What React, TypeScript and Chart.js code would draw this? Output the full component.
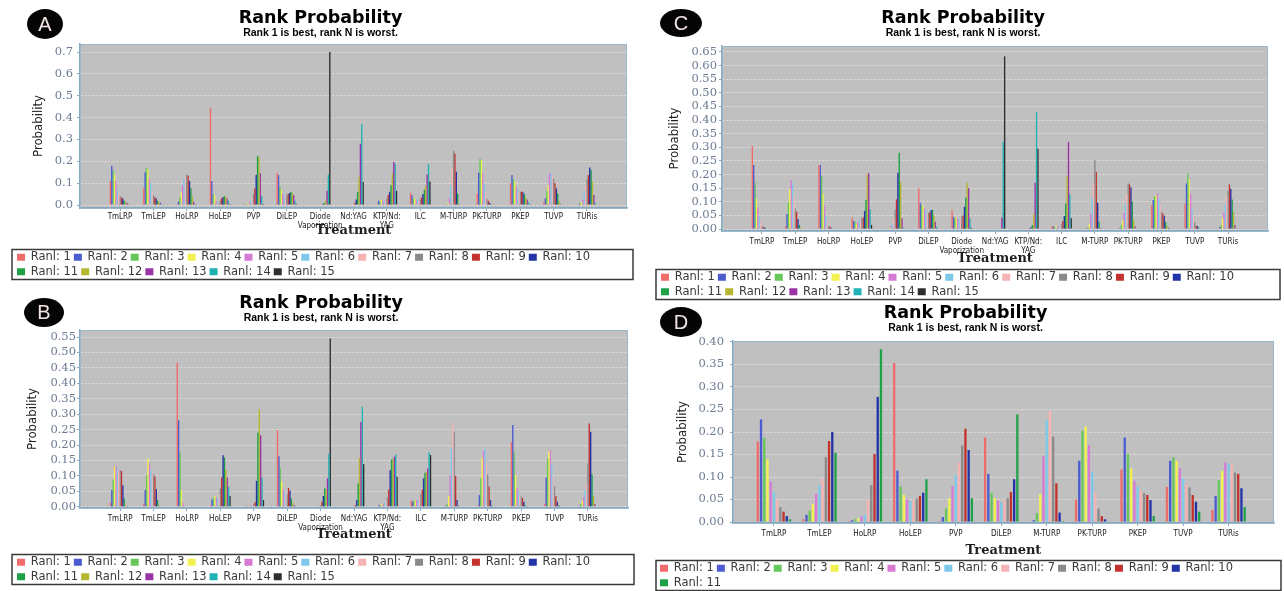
import React, { useEffect, useRef } from "react";
import { Chart, registerables } from "chart.js";

Chart.register(...registerables);

// ---------------- DATA ----------------
const RANK_LABELS = [
  "Ranl: 1", "Ranl: 2", "Ranl: 3", "Ranl: 4", "Ranl: 5", "Ranl: 6", "Ranl: 7", "Ranl: 8",
  "Ranl: 9", "Ranl: 10", "Ranl: 11", "Ranl: 12", "Ranl: 13", "Ranl: 14", "Ranl: 15",
];

const RANK_COLORS = [
  "#f06c6a", "#4b5cd0", "#66c85a", "#f3f150", "#d67ad4", "#7cc9ea", "#f6b3b3", "#8a8a8a",
  "#c3322c", "#2233a8", "#1fa148", "#b4b72f", "#9a33a6", "#1fb2b5", "#2e2e2e",
];

const TREATMENTS_15: (string | string[])[] = [
  "TmLRP", "TmLEP", "HoLRP", "HoLEP", "PVP", "DiLEP", ["Diode", "Vaporization"], "Nd:YAG",
  ["KTP/Nd:", "YAG"], "ILC", "M-TURP", "PK-TURP", "PKEP", "TUVP", "TURis",
];

const TREATMENTS_11: string[] = [
  "TmLRP", "TmLEP", "HoLRP", "HoLEP", "PVP", "DiLEP", "M-TURP", "PK-TURP", "PKEP", "TUVP", "TURis",
];

const Y_TICKS_A = [0, 0.1, 0.2, 0.3, 0.4, 0.5, 0.6, 0.7];
const Y_TICKS_B = [0, 0.05, 0.1, 0.15, 0.2, 0.25, 0.3, 0.35, 0.4, 0.45, 0.5, 0.55];
const Y_TICKS_C = [0, 0.05, 0.1, 0.15, 0.2, 0.25, 0.3, 0.35, 0.4, 0.45, 0.5, 0.55, 0.6, 0.65];
const Y_TICKS_D = [0, 0.05, 0.1, 0.15, 0.2, 0.25, 0.3, 0.35, 0.4];

// rows = treatments, columns = rank 1..N
const PROB_A = [
  [0.11, 0.18, 0.16, 0.14, 0.11, 0.07, 0.05, 0.04, 0.035, 0.03, 0.02, 0.015, 0.01, 0.005, 0.002],
  [0.075, 0.15, 0.17, 0.165, 0.12, 0.1, 0.06, 0.045, 0.035, 0.03, 0.02, 0.015, 0.01, 0.005, 0.002],
  [0.005, 0.015, 0.035, 0.06, 0.09, 0.12, 0.13, 0.137, 0.135, 0.11, 0.077, 0.04, 0.015, 0.005, 0.001],
  [0.445, 0.11, 0.05, 0.045, 0.02, 0.01, 0.005, 0.02, 0.03, 0.035, 0.04, 0.04, 0.03, 0.02, 0.005],
  [0.002, 0.003, 0.005, 0.008, 0.01, 0.02, 0.03, 0.05, 0.075, 0.137, 0.225, 0.22, 0.145, 0.04, 0.005],
  [0.148, 0.137, 0.085, 0.07, 0.05, 0.045, 0.04, 0.045, 0.05, 0.055, 0.06, 0.055, 0.045, 0.02, 0.005],
  [0, 0, 0, 0, 0, 0, 0.001, 0.002, 0.003, 0.005, 0.01, 0.02, 0.065, 0.14, 0.7],
  [0, 0, 0, 0, 0, 0, 0.001, 0.003, 0.01, 0.025, 0.06, 0.13, 0.28, 0.37, 0.105],
  [0.005, 0.02, 0.015, 0.025, 0.02, 0.02, 0.025, 0.03, 0.046, 0.06, 0.09, 0.145, 0.198, 0.19, 0.065],
  [0.056, 0.046, 0.03, 0.03, 0.025, 0.025, 0.02, 0.025, 0.035, 0.05, 0.07, 0.09, 0.14, 0.188, 0.107],
  [0.001, 0.002, 0.005, 0.01, 0.03, 0.09, 0.168, 0.248, 0.236, 0.152, 0.053, 0.005, 0.001, 0, 0],
  [0.053, 0.148, 0.213, 0.206, 0.145, 0.1, 0.06, 0.03, 0.02, 0.01, 0.005, 0.002, 0.001, 0, 0],
  [0.1, 0.137, 0.12, 0.108, 0.085, 0.07, 0.06, 0.06, 0.062, 0.058, 0.05, 0.035, 0.025, 0.012, 0.003],
  [0.015, 0.03, 0.065, 0.09, 0.145, 0.145, 0.14, 0.12, 0.1, 0.076, 0.053, 0.02, 0.005, 0.001, 0],
  [0.002, 0.005, 0.01, 0.015, 0.025, 0.068, 0.09, 0.12, 0.137, 0.172, 0.16, 0.107, 0.046, 0.01, 0.002],
];

const PROB_B = [
  [0.013, 0.054, 0.088, 0.13, 0.133, 0.125, 0.12, 0.12, 0.116, 0.07, 0.027, 0.005, 0.001, 0, 0],
  [0.01, 0.054, 0.102, 0.156, 0.142, 0.118, 0.11, 0.105, 0.098, 0.057, 0.022, 0.004, 0.001, 0, 0],
  [0.467, 0.28, 0.175, 0.055, 0.012, 0.002, 0.001, 0, 0, 0, 0, 0, 0, 0, 0],
  [0.005, 0.024, 0.03, 0.035, 0.03, 0.03, 0.04, 0.06, 0.095, 0.167, 0.16, 0.12, 0.095, 0.065, 0.035],
  [0.002, 0.002, 0.003, 0.004, 0.005, 0.006, 0.008, 0.01, 0.015, 0.084, 0.24, 0.315, 0.232, 0.095, 0.022],
  [0.248, 0.164, 0.126, 0.081, 0.06, 0.05, 0.045, 0.04, 0.061, 0.052, 0.027, 0.013, 0.006, 0.002, 0],
  [0, 0, 0, 0, 0, 0.001, 0.002, 0.005, 0.016, 0.035, 0.06, 0.055, 0.092, 0.172, 0.545],
  [0, 0, 0, 0, 0, 0, 0.001, 0.003, 0.005, 0.022, 0.075, 0.159, 0.275, 0.324, 0.138],
  [0.003, 0.005, 0.005, 0.01, 0.01, 0.015, 0.02, 0.03, 0.056, 0.118, 0.153, 0.155, 0.162, 0.169, 0.097],
  [0.02, 0.017, 0.02, 0.02, 0.022, 0.025, 0.03, 0.04, 0.055, 0.092, 0.11, 0.112, 0.124, 0.176, 0.168],
  [0.001, 0.003, 0.01, 0.035, 0.102, 0.19, 0.272, 0.243, 0.1, 0.022, 0.003, 0.001, 0, 0, 0],
  [0.005, 0.038, 0.092, 0.16, 0.18, 0.187, 0.141, 0.105, 0.066, 0.022, 0.004, 0.001, 0, 0, 0],
  [0.21, 0.265, 0.178, 0.102, 0.06, 0.05, 0.04, 0.034, 0.028, 0.016, 0.006, 0.002, 0, 0, 0],
  [0.01, 0.095, 0.156, 0.18, 0.183, 0.135, 0.1, 0.066, 0.035, 0.016, 0.005, 0.001, 0, 0, 0],
  [0.001, 0.003, 0.01, 0.02, 0.03, 0.055, 0.075, 0.14, 0.27, 0.243, 0.105, 0.035, 0.01, 0.002, 0],
];

const PROB_C = [
  [0.305, 0.235, 0.17, 0.112, 0.078, 0.045, 0.025, 0.01, 0.008, 0.006, 0.004, 0.002, 0, 0, 0],
  [0.01, 0.055, 0.1, 0.146, 0.18, 0.17, 0.12, 0.076, 0.064, 0.037, 0.015, 0.005, 0.002, 0, 0],
  [0.235, 0.235, 0.195, 0.131, 0.088, 0.05, 0.028, 0.012, 0.009, 0.005, 0.002, 0, 0, 0, 0],
  [0.043, 0.03, 0.027, 0.02, 0.025, 0.033, 0.03, 0.04, 0.043, 0.067, 0.107, 0.2, 0.205, 0.072, 0.015],
  [0, 0.002, 0.003, 0.005, 0.01, 0.02, 0.04, 0.07, 0.109, 0.207, 0.28, 0.174, 0.04, 0.005, 0],
  [0.15, 0.097, 0.088, 0.088, 0.076, 0.07, 0.06, 0.06, 0.062, 0.07, 0.07, 0.05, 0.027, 0.008, 0],
  [0.068, 0.045, 0.04, 0.043, 0.04, 0.04, 0.04, 0.045, 0.05, 0.082, 0.116, 0.17, 0.15, 0.039, 0.005],
  [0, 0, 0, 0, 0, 0, 0, 0, 0, 0, 0.001, 0.002, 0.043, 0.32, 0.634],
  [0, 0, 0, 0, 0, 0, 0, 0.001, 0.003, 0.007, 0.015, 0.055, 0.17, 0.43, 0.295],
  [0.01, 0.01, 0.008, 0.012, 0.01, 0.012, 0.015, 0.02, 0.03, 0.048, 0.094, 0.194, 0.32, 0.128, 0.04],
  [0.001, 0.003, 0.008, 0.02, 0.055, 0.115, 0.17, 0.254, 0.21, 0.097, 0.027, 0.004, 0.001, 0, 0],
  [0.001, 0.005, 0.015, 0.033, 0.06, 0.09, 0.13, 0.168, 0.164, 0.153, 0.1, 0.033, 0.01, 0.002, 0],
  [0.088, 0.107, 0.12, 0.125, 0.131, 0.11, 0.09, 0.064, 0.058, 0.049, 0.027, 0.012, 0.005, 0.001, 0],
  [0.094, 0.168, 0.205, 0.183, 0.131, 0.075, 0.05, 0.025, 0.012, 0.01, 0.005, 0.002, 0, 0, 0],
  [0.002, 0.008, 0.015, 0.04, 0.06, 0.088, 0.12, 0.14, 0.164, 0.148, 0.109, 0.064, 0.015, 0.003, 0],
];

const PROB_D = [
  [0.179, 0.228, 0.187, 0.139, 0.09, 0.067, 0.049, 0.033, 0.023, 0.013, 0.006],
  [0.006, 0.016, 0.025, 0.04, 0.062, 0.082, 0.097, 0.144, 0.18, 0.2, 0.154],
  [0.002, 0.004, 0.006, 0.008, 0.012, 0.016, 0.049, 0.082, 0.151, 0.278, 0.384],
  [0.353, 0.114, 0.079, 0.06, 0.05, 0.047, 0.047, 0.052, 0.058, 0.065, 0.095],
  [0.002, 0.011, 0.03, 0.053, 0.08, 0.104, 0.132, 0.17, 0.207, 0.16, 0.053],
  [0.188, 0.107, 0.065, 0.053, 0.048, 0.043, 0.048, 0.053, 0.067, 0.095, 0.239],
  [0.001, 0.004, 0.02, 0.062, 0.146, 0.227, 0.247, 0.19, 0.086, 0.021, 0.002],
  [0.05, 0.136, 0.203, 0.212, 0.171, 0.112, 0.065, 0.03, 0.013, 0.006, 0.001],
  [0.117, 0.188, 0.151, 0.119, 0.092, 0.079, 0.07, 0.064, 0.06, 0.049, 0.013],
  [0.078, 0.136, 0.144, 0.136, 0.119, 0.097, 0.084, 0.077, 0.06, 0.045, 0.023],
  [0.027, 0.058, 0.093, 0.114, 0.132, 0.13, 0.127, 0.11, 0.107, 0.075, 0.033],
];

// ---------------- LAYOUT / STYLE ----------------
type PanelCfg = {
  letter: string;
  badge: { cx: number; cy: number; w: number; h: number };
  left: number; top: number; w: number; h: number;
  padL: number; padR: number; padB: number;
  subPadB: number;
  xAxisH: number; xTickPad: number; xTitlePadB: number;
  yAxisW: number; yTitlePad: number; yTickPad: number;
  yMin: number; yMax: number; yTicks: number[]; decimals: number;
  xMin: number; xMax: number;
  cats: (string | string[])[];
  matrix: number[][];
  nRanks: number;
  catPct: number; barPct: number;
  frameX1: number; frameX2: number;
};

const PANELS: PanelCfg[] = [
  {
    letter: "A", badge: { cx: 45, cy: 24, w: 36, h: 30 },
    left: 0, top: 0, w: 640, h: 288, padL: 14, padR: 13, padB: 0.5,
    subPadB: 5.5, xAxisH: 40.5, xTickPad: 2, xTitlePadB: 9.7,
    yAxisW: 66, yTitlePad: 17.2, yTickPad: 4,
    yMin: -0.0137, yMax: 0.7366, yTicks: Y_TICKS_A, decimals: 1,
    xMin: -1.2, xMax: 15.2, cats: TREATMENTS_15, matrix: PROB_A, nRanks: 15,
    catPct: 0.62, barPct: 1.0, frameX1: 12, frameX2: 633,
  },
  {
    letter: "B", badge: { cx: 44, cy: 312, w: 40, h: 29 },
    left: 0, top: 285, w: 640, h: 308, padL: 14, padR: 12, padB: 0.5,
    subPadB: 6.5, xAxisH: 45.5, xTickPad: 4, xTitlePadB: 10.7,
    yAxisW: 66, yTitlePad: 11.2, yTickPad: 1,
    yMin: -0.004, yMax: 0.5727, yTicks: Y_TICKS_B, decimals: 2,
    xMin: -1.2, xMax: 15.2, cats: TREATMENTS_15, matrix: PROB_B, nRanks: 15,
    catPct: 0.62, barPct: 1.0, frameX1: 12, frameX2: 634,
  },
  {
    letter: "C", badge: { cx: 681, cy: 23, w: 42, h: 28 },
    left: 640, top: 0, w: 644, h: 308, padL: 18, padR: 16, padB: 0.5,
    subPadB: 7.5, xAxisH: 37.5, xTickPad: 4, xTitlePadB: 1.7,
    yAxisW: 64, yTitlePad: 9.2, yTickPad: 2,
    yMin: -0.007, yMax: 0.672, yTicks: Y_TICKS_C, decimals: 2,
    xMin: -1.2, xMax: 15.2, cats: TREATMENTS_15, matrix: PROB_C, nRanks: 15,
    catPct: 0.62, barPct: 1.0, frameX1: 16, frameX2: 640,
  },
  {
    letter: "D", badge: { cx: 681, cy: 322, w: 42, h: 30 },
    left: 640, top: 295, w: 644, h: 304, padL: 17, padR: 10, padB: 0.5,
    subPadB: 7.5, xAxisH: 36.5, xTickPad: 4, xTitlePadB: 0.7,
    yAxisW: 76, yTitlePad: 18.2, yTickPad: 6,
    yMin: -0.0022, yMax: 0.4022, yTicks: Y_TICKS_D, decimals: 2,
    xMin: -0.9, xMax: 11.0, cats: TREATMENTS_11, matrix: PROB_D, nRanks: 11,
    catPct: 0.78, barPct: 0.72, frameX1: 16, frameX2: 641,
  },
];

const NARROW = '"Liberation Sans Narrow", "DejaVu Sans Condensed", "Liberation Sans", sans-serif';
const AXIS_BLUE = "#86a9c2";

const plotFrame = {
  id: "plotFrame",
  beforeDraw(chart: any) {
    const { ctx, chartArea: a } = chart;
    ctx.save();
    ctx.fillStyle = "#c0c0c0";
    ctx.fillRect(a.left, a.top, a.right - a.left, a.bottom - a.top);
    ctx.restore();
  },
  afterDatasetsDraw(chart: any) {
    const { ctx, chartArea: a } = chart;
    ctx.save();
    ctx.strokeStyle = "#9bb7cb";
    ctx.lineWidth = 1;
    ctx.strokeRect(a.left + 0.5, a.top + 0.5, a.right - a.left - 1, a.bottom - a.top);
    ctx.restore();
  },
};

const legendFrame = {
  id: "legendFrame",
  afterDraw(chart: any, _args: any, opts: any) {
    const lg = chart.legend;
    if (!lg) return;
    const { ctx } = chart;
    ctx.save();
    ctx.strokeStyle = "#3a3a3a";
    ctx.lineWidth = 1.5;
    ctx.strokeRect(opts.x1, lg.top + 1, opts.x2 - opts.x1, 30);
    ctx.restore();
  },
};

function buildConfig(cfg: PanelCfg): any {
  const datasets = RANK_LABELS.slice(0, cfg.nRanks).map((label, r) => ({
    label,
    data: cfg.cats.map((_, c) => ({ x: c, y: cfg.matrix[c][r] })),
    backgroundColor: RANK_COLORS[r],
    borderWidth: 0,
    categoryPercentage: cfg.catPct,
    barPercentage: cfg.barPct,
  }));

  return {
    type: "bar",
    data: { datasets },
    options: {
      animation: false,
      responsive: false,
      devicePixelRatio: 1,
      layout: { padding: { top: 0, left: cfg.padL, right: cfg.padR, bottom: cfg.padB } },
      plugins: {
        title: {
          display: true,
          text: "Rank Probability",
          color: "#000",
          font: { family: '"DejaVu Sans", sans-serif', size: 17.5, weight: "bold", lineHeight: 1 },
          padding: { top: 9.5, bottom: 0 },
        },
        subtitle: {
          display: true,
          text: "Rank 1 is best, rank N is worst.",
          color: "#000",
          font: { family: '"Liberation Sans", Arial, sans-serif', size: 10.5, weight: "bold", lineHeight: 1 },
          padding: { top: 1, bottom: cfg.subPadB },
        },
        legend: {
          display: true,
          position: "bottom",
          align: "start",
          labels: {
            boxWidth: 8,
            boxHeight: 7,
            padding: 3,
            color: "#3a3a3a",
            font: { family: '"DejaVu Sans", sans-serif', size: 11.5 },
          },
        },
        tooltip: { enabled: false },
        legendFrame: { x1: cfg.frameX1, x2: cfg.frameX2 },
      },
      scales: {
        x: {
          type: "linear",
          min: cfg.xMin,
          max: cfg.xMax,
          offset: false,
          grid: { display: true, drawOnChartArea: false, drawTicks: true, tickLength: 3, tickColor: AXIS_BLUE, offset: false },
          border: { display: true, color: AXIS_BLUE, width: 1.5 },
          afterBuildTicks: (s: any) => {
            s.ticks = cfg.cats.map((_, i) => ({ value: i }));
          },
          afterFit: (s: any) => {
            s.height = cfg.xAxisH;
          },
          ticks: {
            autoSkip: false,
            maxRotation: 0,
            minRotation: 0,
            includeBounds: false,
            padding: cfg.xTickPad,
            color: "#1a1a1a",
            font: { family: NARROW, size: 8, lineHeight: 1.05 },
            callback: (value: any) => {
              const v = Number(value);
              const i = Math.round(v);
              if (Math.abs(v - i) > 1e-6) return "";
              const lab = cfg.cats[i];
              return lab === undefined ? "" : lab;
            },
          },
          title: {
            display: true,
            text: "Treatment",
            color: "#1e1e1e",
            font: { family: '"DejaVu Serif", serif', size: 13, weight: "bold", lineHeight: 1.2 },
            padding: { top: 0, bottom: cfg.xTitlePadB },
          },
        },
        y: {
          min: cfg.yMin,
          max: cfg.yMax,
          grid: {
            display: true,
            drawOnChartArea: true,
            color: "rgba(246,230,230,0.75)",
            lineWidth: 1,
            drawTicks: true,
            tickLength: 3,
            tickColor: AXIS_BLUE,
          },
          border: { display: true, color: AXIS_BLUE, width: 1.5, dash: [2, 2] },
          afterBuildTicks: (s: any) => {
            s.ticks = cfg.yTicks.map((v) => ({ value: v }));
          },
          afterFit: (s: any) => {
            s.width = cfg.yAxisW;
          },
          ticks: {
            autoSkip: false,
            padding: cfg.yTickPad,
            color: "#6c7b92",
            font: { family: '"DejaVu Serif", serif', size: 11.5 },
            callback: (value: any) => Number(value).toFixed(cfg.decimals),
          },
          title: {
            display: true,
            text: "Probability",
            color: "#222",
            font: { family: NARROW, size: 13, lineHeight: 1.2 },
            padding: { top: cfg.yTitlePad, bottom: 0 },
          },
        },
      },
    },
    plugins: [plotFrame, legendFrame],
  };
}

function Panel({ cfg }: { cfg: PanelCfg }) {
  const ref = useRef<HTMLCanvasElement | null>(null);
  useEffect(() => {
    const canvas = ref.current;
    if (!canvas) return;
    const chart = new Chart(canvas, buildConfig(cfg));
    return () => chart.destroy();
  }, [cfg]);
  const b = cfg.badge;
  return (
    <>
      <canvas
        ref={ref}
        width={cfg.w}
        height={cfg.h}
        style={{ position: "absolute", left: cfg.left, top: cfg.top, width: cfg.w, height: cfg.h }}
      />
      <div
        style={{
          position: "absolute",
          left: b.cx - b.w / 2,
          top: b.cy - b.h / 2,
          width: b.w,
          height: b.h,
          borderRadius: "50%",
          background: "#050505",
          color: "#f3e4e4",
          display: "flex",
          alignItems: "center",
          justifyContent: "center",
          fontFamily: '"Liberation Sans", Arial, sans-serif',
          fontSize: 20,
          lineHeight: 1,
        }}
      >
        {cfg.letter}
      </div>
    </>
  );
}

export default function App() {
  return (
    <div
      style={{
        position: "fixed",
        left: 0,
        top: 0,
        width: 1284,
        height: 591,
        background: "#ffffff",
        overflow: "hidden",
      }}
    >
      {PANELS.map((p) => (
        <Panel key={p.letter} cfg={p} />
      ))}
    </div>
  );
}
